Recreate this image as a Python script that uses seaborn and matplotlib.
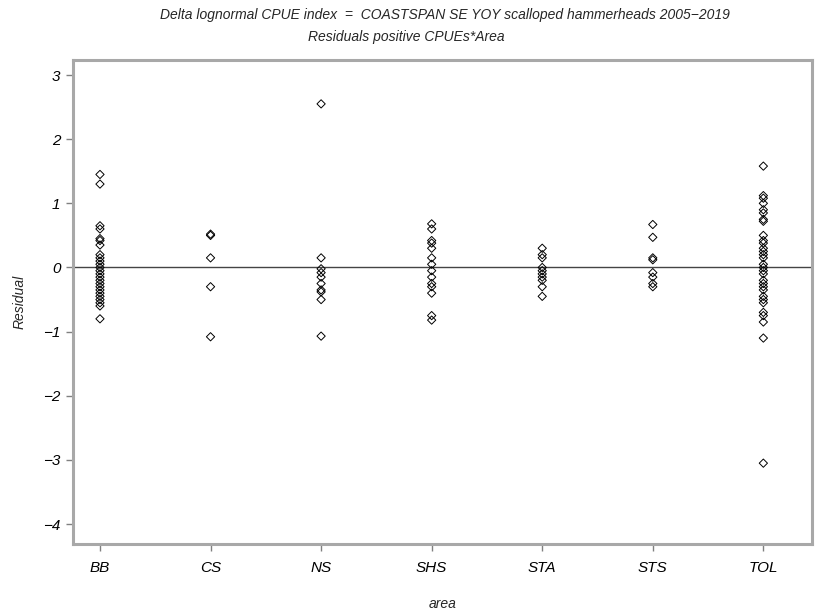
import matplotlib
matplotlib.use("Agg")
import matplotlib.pyplot as plt
import seaborn as sns
import pandas as pd

areas = ["BB", "CS", "NS", "SHS", "STA", "STS", "TOL"]

bb = [1.45, 1.30, 0.65, 0.60, 0.45, 0.42, 0.35, 0.20, 0.15, 0.10, 0.05, 0.00,
      -0.05, -0.10, -0.15, -0.20, -0.25, -0.30, -0.35, -0.40, -0.45, -0.50,
      -0.55, -0.60, -0.80]
cs = [0.52, 0.50, 0.15, -0.30, -1.08]
ns = [2.55, 0.15, -0.02, -0.08, -0.15, -0.25, -0.35, -0.38, -0.50, -1.07]
shs = [0.68, 0.60, 0.42, 0.38, 0.30, 0.15, 0.05, -0.05, -0.15, -0.25, -0.30,
       -0.40, -0.75, -0.82]
sta = [0.30, 0.20, 0.15, 0.00, -0.05, -0.10, -0.15, -0.20, -0.30, -0.45]
sts = [0.67, 0.47, 0.15, 0.12, -0.08, -0.15, -0.25, -0.30]
tol = [1.58, 1.12, 1.08, 1.00, 0.90, 0.85, 0.75, 0.72, 0.50, 0.42, 0.38, 0.30,
       0.25, 0.20, 0.15, 0.05, 0.00, -0.05, -0.10, -0.20, -0.25, -0.30, -0.35,
       -0.45, -0.50, -0.55, -0.70, -0.75, -0.85, -1.10, -3.05]

series = [bb, cs, ns, shs, sta, sts, tol]
rows = []
for a, vals in zip(areas, series):
    for v in vals:
        rows.append({"area": a, "Residual": v})
df = pd.DataFrame(rows)

sns.set_theme(style="white")
plt.rcParams["font.family"] = ["Liberation Sans", "DejaVu Sans"]

fig = plt.figure(figsize=(8.17, 6.13), dpi=100)
ax = fig.add_axes([73 / 817, 69 / 613, (812 - 73) / 817, (544 - 60) / 613])

sns.stripplot(data=df, x="area", y="Residual", order=areas, jitter=False,
              marker="D", size=4.2, facecolor="none", edgecolor="black",
              linewidth=0.7, color="black", ax=ax, zorder=3)

ax.axhline(0, color="#444444", linewidth=1.0, zorder=2)

ax.set_xlim(-0.244, 6.44)
ax.set_ylim(-4.31, 3.234)
ax.set_yticks([3, 2, 1, 0, -1, -2, -3, -4])
ax.set_yticklabels(["3", "2", "1", "0", "\u22121", "\u22122", "\u22123", "\u22124"])

for s in ax.spines.values():
    s.set_color("#a8a8a8")
    s.set_linewidth(2.2)

ax.tick_params(axis="both", which="both", direction="out", length=5, width=1,
               color="#808080", labelsize=11, pad=4, left=True, bottom=True)
ax.tick_params(axis="x", pad=7)
for lab in ax.get_xticklabels() + ax.get_yticklabels():
    lab.set_fontstyle("italic")
    lab.set_color("black")

ax.set_xlabel("area", fontsize=10, fontstyle="italic", labelpad=16)
ax.set_ylabel("Residual", fontsize=10, fontstyle="italic", labelpad=12)

fig.text(445 / 817, 1 - 15 / 613,
         "Delta lognormal CPUE index  =  COASTSPAN SE YOY scalloped hammerheads 2005\u22122019",
         ha="center", va="center", fontsize=10, fontstyle="italic")
fig.text(406 / 817, 1 - 37 / 613, "Residuals positive CPUEs*Area",
         ha="center", va="center", fontsize=10, fontstyle="italic")

fig.savefig("out.png", dpi=100)
